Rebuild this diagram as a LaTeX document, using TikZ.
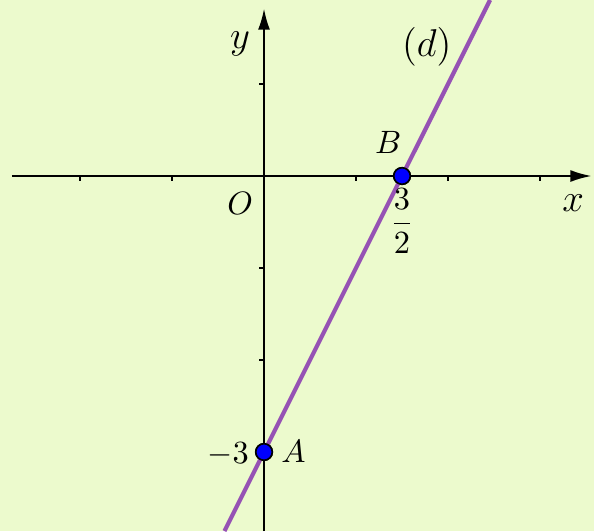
\documentclass[tikz,border=0pt]{standalone}
\usepackage{amsmath}
\usepackage{xcolor}
\usepackage{tikz}
\usetikzlibrary{arrows.meta,positioning,calc}
\definecolor{nenxanh}{RGB}{236,250,205}
\definecolor{timd}{RGB}{150,82,180}
\tikzset{
  truc/.style={-{Latex[length=2.3mm,width=1.3mm]},line width=0.6pt},
  vach/.style={line width=0.6pt},
  duongd/.style={timd,line width=1.3pt},
  diem/.style={circle,draw=black,fill=blue,line width=0.5pt,minimum size=3.6mm,inner sep=0pt},
  nhan/.style={inner sep=1pt},
  nhantruc/.style={inner sep=1pt,font=\large}
}

\begin{document}
\begin{tikzpicture}[x=1cm,y=1cm,font=\normalsize]
  % khung va nen
  \fill[nenxanh] (-2.870,-3.859) rectangle (3.587,1.913);
  \useasboundingbox (-2.870,-3.859) rectangle (3.587,1.913);
  % truc toa do
  \coordinate (O) at (0,0);
  \coordinate (xtrai) at (-2.74,0);
  \coordinate (xphai) at (3.56,0);
  \coordinate (yduoi) at (0,-3.859);
  \coordinate (ytren) at (0,1.82);
  \draw[truc] (xtrai) -- (xphai);
  \draw[truc] (yduoi) -- (ytren);
  \foreach \i in {-2,-1,1,2,3} \draw[vach] (\i,0) -- (\i,-0.05);
  \foreach \j in {1,-1,-2,-3} \draw[vach] (0,\j) -- (-0.05,\j);
  \node[nhan] (lO) at (-0.26,-0.30) {$O$};
  \node[nhantruc] (lx) at (3.36,-0.29) {$x$};
  \node[nhantruc] (ly) at (-0.26,1.44) {$y$};
  % duong thang (d)
  \node[diem,scale=0.5] (A) at (0,-3) {};
  \node[diem,scale=0.5] (B) at (1.5,0) {};
  \coordinate (dduoi) at (-0.43,-3.86);
  \coordinate (dtren) at (2.457,1.913);
  \draw[duongd] (dduoi) -- (A) -- (B) -- (dtren);
  \node[diem,scale=0.5] at (A) {};
  \node[diem,scale=0.5] at (B) {};
  \node[nhan] (lA) at (0.32,-2.99) {$A$};
  \node[nhan] (lB) at (1.35,0.37) {$B$};
  \node[nhan] (la) at (-0.39,-3.03) {$-3$};
  \node[nhan] (lb) at (1.5,-0.49) {$\dfrac{3}{2}$};
  \node[nhan,font=\fontsize{13}{15}\selectfont] (ld) at (1.77,1.40) {$(d)$};
\end{tikzpicture}
\end{document}
